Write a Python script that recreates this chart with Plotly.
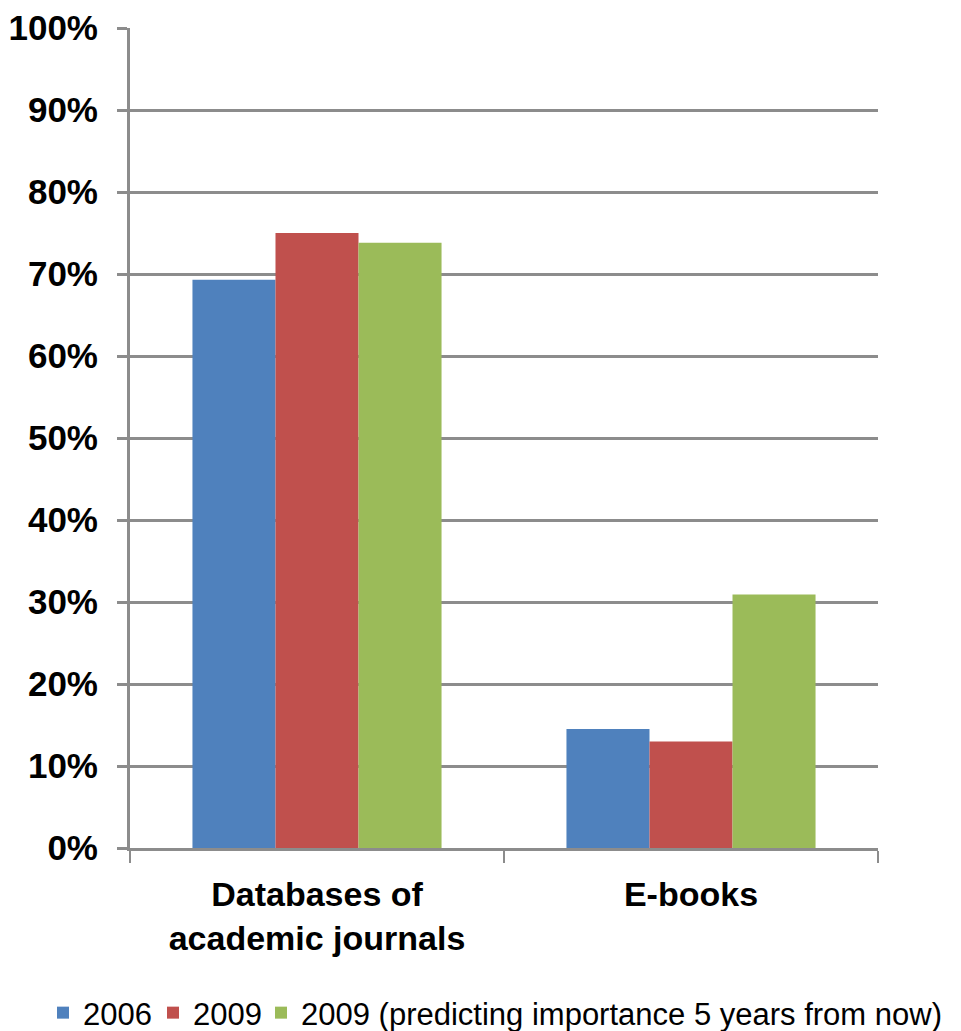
import plotly.graph_objects as go

categories = ["Databases of<br>academic journals", "E-books"]
series_names = ["2006", "2009", "2009 (predicting importance 5 years from now)"]
values_2006 = [69.3, 14.5]
values_2009 = [75.0, 13.0]
values_2009_pred = [73.8, 30.9]
colors = ["#4F81BD", "#C0504D", "#9BBB59"]
y_ticks = [0, 10, 20, 30, 40, 50, 60, 70, 80, 90, 100]
y_tick_labels = [f"{v}%" for v in y_ticks]

W, H = 953, 1023  # page body has an 8px default margin
legend_ids = ["legend", "legend2", "legend3"]
legend_left_px = [35, 145, 253]

fig = go.Figure()
for name, vals, col, lid in zip(series_names, [values_2006, values_2009, values_2009_pred], colors, legend_ids):
    fig.add_trace(go.Bar(x=categories, y=vals, name=name, marker_color=col,
                         marker_line_width=0, legend=lid))

grid_col = "#8c8c8c"
font_family = "Liberation Sans, Arial, sans-serif"
legend_common = dict(orientation="h", xref="container", yref="container",
                     xanchor="left", y=0.0176, yanchor="middle",
                     font=dict(size=31, family=font_family),
                     itemwidth=30, bgcolor="rgba(0,0,0,0)")

layout_legends = {}
for lid, px in zip(legend_ids, legend_left_px):
    layout_legends[lid] = dict(legend_common, x=px / W)

fig.update_layout(
    width=W, height=H,
    margin=dict(l=122, r=83, t=20, b=183, autoexpand=False),
    paper_bgcolor="white", plot_bgcolor="white",
    barmode="group", bargap=0.334, bargroupgap=0,
    font=dict(family=font_family, color="black"),
    showlegend=True,
    xaxis=dict(showline=True, linecolor=grid_col, linewidth=3,
               ticks="outside", ticklen=12, tickwidth=2, tickcolor=grid_col,
               tickson="boundaries", showgrid=False,
               tickfont=dict(size=34, family=font_family),
               ticklabelstandoff=14),
    yaxis=dict(range=[0, 100], tickvals=y_ticks, ticktext=[f"<b>{t}</b>" for t in y_tick_labels],
               showline=True, linecolor=grid_col, linewidth=3,
               showgrid=True, gridcolor=grid_col, gridwidth=3,
               ticks="outside", ticklen=10, tickwidth=3, tickcolor=grid_col,
               tickfont=dict(size=35, family=font_family),
               ticklabelstandoff=12, zeroline=False),
    **layout_legends,
)
fig.update_xaxes(ticktext=[f"<b>{c}</b>" for c in categories], tickvals=categories)

fig.write_html("out.html")
